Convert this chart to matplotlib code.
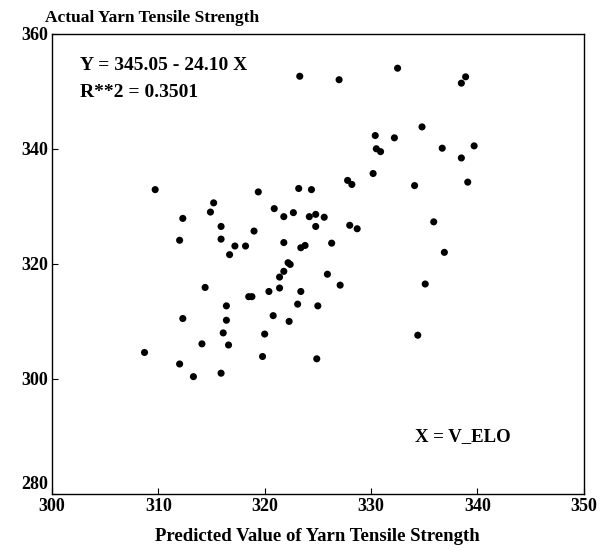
import matplotlib
matplotlib.use("Agg")
import matplotlib.pyplot as plt
from matplotlib.transforms import ScaledTranslation

# predicted vs actual yarn tensile strength
predicted = [323.3, 327.0, 332.5, 338.9, 338.5, 334.8, 330.4, 332.2, 330.5, 330.9,
             336.7, 339.7, 338.5, 330.2, 327.8, 328.2, 334.1, 339.1, 309.7, 319.4,
             323.2, 324.4, 315.2, 320.9, 314.9, 322.7, 321.8, 324.2, 324.8, 325.6,
             312.3, 335.9, 315.9, 324.8, 328.0, 328.7, 319.0, 315.9, 312.0, 321.8,
             326.3, 317.2, 318.2, 323.4, 323.8, 336.9, 316.7, 322.2, 322.4, 321.8,
             321.4, 325.9, 327.1, 335.1, 314.4, 318.5, 318.8, 320.4, 321.4, 323.4,
             323.1, 325.0, 316.4, 312.3, 316.4, 320.8, 322.3, 316.1, 320.0, 334.4,
             314.1, 316.6, 308.7, 312.0, 319.8, 324.9, 313.3, 315.9]
actual = [352.6, 352.0, 354.0, 352.5, 351.4, 343.8, 342.3, 341.9, 340.0, 339.5,
          340.1, 340.5, 338.4, 335.7, 334.5, 333.8, 333.6, 334.2, 332.9, 332.5,
          333.1, 332.9, 330.6, 329.6, 329.0, 328.9, 328.2, 328.2, 328.6, 328.1,
          327.9, 327.3, 326.5, 326.5, 326.7, 326.1, 325.7, 324.3, 324.1, 323.7,
          323.6, 323.1, 323.1, 322.8, 323.2, 322.0, 321.6, 320.2, 319.9, 318.7,
          317.7, 318.2, 316.3, 316.5, 315.9, 314.3, 314.3, 315.2, 315.8, 315.2,
          313.0, 312.7, 312.7, 310.5, 310.2, 311.0, 310.0, 308.0, 307.8, 307.6,
          306.1, 305.9, 304.6, 302.6, 303.9, 303.5, 300.4, 301.0]

xticks = [300, 310, 320, 330, 340, 350]
yticks = [280, 300, 320, 340, 360]
ytick_labels = ['', '300', '320', '340', '360']  # 280 is drawn raised, below

plt.rcParams['font.family'] = ['Liberation Serif', 'DejaVu Serif']
plt.rcParams['font.weight'] = 'bold'

fig = plt.figure(figsize=(6.15, 5.52), dpi=100)
ax = fig.add_axes([0.0846, 0.105, 0.8644, 0.834])

ax.scatter(predicted, actual, s=26, color='black', edgecolors='none')

ax.set_xlim(300, 350)
ax.set_ylim(280, 360)
ax.set_xticks(xticks)
ax.set_yticks(yticks)
ax.set_yticklabels(ytick_labels)
ax.tick_params(direction='in', length=4, width=0.8, labelsize=13,
               top=False, right=False, pad=3)
for lab in ax.get_xticklabels() + ax.get_yticklabels():
    lab.set_fontweight('bold')
for s in ax.spines.values():
    s.set_linewidth(1.0)

# the 280 label sits a little above the corner so it clears the 300
off = ax.get_yaxis_transform() + ScaledTranslation(-3 / 72, 7 / 72, fig.dpi_scale_trans)
ax.text(0, 280, '280', transform=off, fontsize=13, fontweight='bold',
        ha='right', va='center')

ax.text(0.053, 0.93, 'Y = 345.05 - 24.10 X', transform=ax.transAxes,
        fontsize=14, fontweight='bold', va='center')
ax.text(0.053, 0.872, 'R**2 = 0.3501', transform=ax.transAxes,
        fontsize=14, fontweight='bold', va='center')
ax.text(0.683, 0.124, 'X = V_ELO', transform=ax.transAxes,
        fontsize=13.5, fontweight='bold', va='center')

fig.text(0.073, 0.967, 'Actual Yarn Tensile Strength', fontsize=12.5,
         fontweight='bold', va='center')
ax.set_xlabel('Predicted Value of Yarn Tensile Strength', fontsize=13.5,
              fontweight='bold', labelpad=9)

fig.savefig('out.png', dpi=100)
